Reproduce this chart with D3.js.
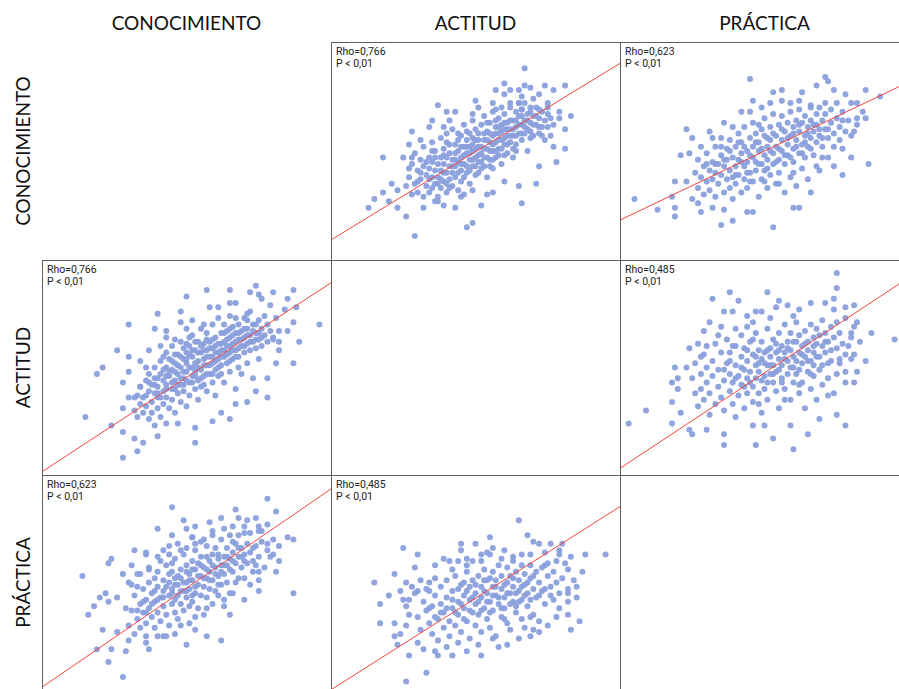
<!DOCTYPE html>
<html>
<head>
<meta charset="utf-8">
<script src="https://cdn.jsdelivr.net/npm/d3@7"></script>
<style>
  body { margin: 0; background: #fff; }
</style>
</head>
<body>
<script>
// variables of the matrix (rows and columns)
const variables = ['CONOCIMIENTO', 'ACTITUD', 'PRÁCTICA']

// one entry per scatter panel
const panelRow = [0, 0, 1, 1, 2, 2]
const panelCol = [1, 2, 0, 2, 0, 1]
const rhoText = ['0,766', '0,623', '0,766', '0,485', '0,623', '0,485']
const pText = 'P < 0,01'
// fitted line, y value (0-100 scale) at x = 0 and at x = 100
const fitAt0 = [9.2, 18.3, 1.5, 3.1, 1.3, 0.1]
const fitAt100 = [90.2, 81.7, 89.4, 91.9, 93.5, 85.3]

// points, [x, y] on a 0-100 scale of the panel
const ptsConAct = [
  [67,88],[60,81],[57,78],[62,78],[67,80],[74,80],[69,79],[81,80],[77,78],[65,78],[72,76],[70,74],[66,75],[60,76],[50,73],[56,72],[37,71],[40,68],[43,68],[49,67],
  [51,70],[57,69],[59,70],[62,72],[65,72],[66,69],[69,68],[72,69],[75,72],[79,68],[83,66],[79,65],[75,67],[81,60],[81,51],[78,45],[77,52],[71,35],[72,43],[66,26],
  [65,34],[60,36],[56,31],[52,25],[54,30],[47,15],[49,17],[43,24],[45,29],[39,25],[37,27],[32,24],[29,11],[26,20],[23,24],[20,27],[13,24],[15,28],[18,31],[21,35],
  [18,47],[25,47],[27,53],[28,59],[31,55],[34,61],[35,64],[39,61],[41,64],[28,47],[27,42],[23,32],[26,34],
  [27,38],[28,44],[29,35],[29,49],[30,31],[30,41],[31,46],[31,37],[32,52],[32,29],[32,43],[33,39],[33,34],[28,30],[30,36],
  [34,47],[34,42],[34,31],[35,54],[35,38],[35,45],[36,35],[36,41],[36,50],[37,29],[37,44],[37,38],[38,47],[38,33],[38,56],[38,41],[36,27],
  [39,44],[39,36],[39,51],[40,40],[40,47],[40,31],[40,58],[41,43],[41,37],[41,53],[42,46],[42,40],[42,34],[42,60],[43,49],[43,43],[43,38],[44,55],[44,45],[44,32],[44,50],
  [45,47],[45,41],[45,57],[45,36],[46,52],[46,44],[46,62],[47,49],[47,40],[47,55],[48,46],[48,58],[48,35],[48,52],[49,43],[49,50],[49,64],[50,47],[50,55],[50,39],[50,60],[46,30],[49,32],
  [51,52],[51,45],[51,58],[52,49],[52,62],[52,42],[53,55],[53,47],[53,66],[54,51],[54,59],[54,38],[55,54],[55,46],[55,63],[56,57],[56,50],[56,42],[56,68],
  [57,54],[57,61],[57,47],[58,58],[58,65],[58,51],[59,62],[59,55],[59,44],[60,60],[60,67],[60,53],[61,57],[61,63],[61,49],[62,60],[62,70],[62,54],
  [63,64],[63,57],[63,47],[64,61],[64,68],[64,53],[65,66],[65,58],[65,72],[66,62],[66,55],[66,69],[67,64],[67,58],[68,67],[68,60],[68,50],[67,72],
  [69,63],[69,70],[70,66],[70,57],[71,62],[71,70],[72,65],[72,58],[73,68],[73,61],[74,64],[74,55],[75,61],[75,70],[76,65],[76,57],[77,62],
  [33,45],[35,33],[36,47],[38,37],[39,48],[40,35],[41,49],[42,43],[43,53],[44,40],[45,52],[46,38],[46,48],[47,43],[47,59],[48,41],[48,49],[49,56],[49,46],[50,51],
  [50,43],[51,48],[51,55],[51,40],[52,52],[52,45],[53,58],[53,51],[54,55],[54,47],[54,63],[55,50],[55,58],[56,53],[56,46],[57,58],[57,64],[58,55],[58,48],[59,59],
  [59,51],[60,56],[60,63],[61,53],[61,60],[62,57],[62,64],[63,60],[63,51],[64,57],[64,64],[65,62],[66,58],[66,66],[67,61],[68,64],[69,59],[70,62],[71,66],[72,61],
  [35,50],[37,35],[39,40],[41,33],[43,46],[45,44],[47,52],[49,53],[53,43],[57,50],[60,48],[64,50],[69,56],[73,57],[44,58],[40,54],[34,37],[31,40],[55,43],[58,61]
]

const ptsConPra = [
  [45,83],[71,84],[72,82],[85,78],[90,75],[78,76],[74,78],[68,80],[63,77],[56,78],[53,77],[46,73],[52,72],[56,73],[59,72],[62,73],[66,71],[69,70],[71,72],[75,72],
  [80,72],[82,72],[85,65],[82,65],[81,59],[77,64],[77,51],[80,47],[86,44],[77,39],[74,43],[70,47],[68,43],[66,31],[62,24],[60,24],[53,15],[44,22],[46,22],[39,18],
  [35,16],[36,23],[32,24],[28,22],[27,26],[25,28],[19,20],[19,24],[13,23],[5,28],[18,29],[19,36],[23,36],[21,48],[24,49],[23,60],[25,56],[28,52],[31,59],[36,63],
  [42,68],[45,68],[49,70],[39,61],[32,56],
  [26,40],[27,33],[27,46],[28,38],[29,30],[29,43],[30,36],[30,49],[31,41],[31,32],[32,45],[32,37],[33,52],[33,29],[33,40],[34,44],[34,35],[35,48],[35,39],[35,56],
  [36,31],[36,43],[37,51],[37,37],[37,46],[38,41],[38,33],[38,55],[39,47],[39,38],[39,28],[40,52],[40,43],[40,35],[41,58],[41,46],[41,39],[42,49],[42,31],[42,54],
  [43,43],[43,37],[43,61],[44,50],[44,45],[44,33],[45,56],[45,40],[45,48],[46,52],[46,36],[46,63],[47,45],[47,58],[47,41],[48,50],[48,29],[48,54],[49,44],[49,60],
  [49,37],[50,48],[50,57],[50,41],[50,65],[51,52],[51,33],[51,46],[52,55],[52,61],[52,39],[53,49],[53,44],[53,67],[54,57],[54,52],[54,35],[55,46],[55,62],[55,40],
  [56,55],[56,50],[56,66],[57,44],[57,59],[57,31],[58,53],[58,63],[58,48],[59,57],[59,38],[59,68],[60,51],[60,61],[60,45],[61,55],[61,64],[61,34],[62,59],[62,49],
  [62,69],[63,53],[63,63],[63,42],[64,57],[64,66],[64,47],[65,61],[65,52],[65,37],[66,64],[66,56],[66,70],[67,59],[67,48],[68,62],[68,54],[68,67],[69,57],[69,41],
  [70,64],[70,52],[71,60],[71,67],[72,56],[72,47],[73,63],[73,69],[74,58],[74,52],[75,65],[76,61],[76,55],[77,68],[78,59],[79,64],[80,57],[82,62],[84,68],
  [36,46],[38,50],[40,39],[42,45],[43,52],[44,40],[46,47],[47,54],[48,44],[49,51],[51,56],[51,42],[52,50],[53,58],[54,45],[55,51],[56,60],[57,48],[58,56],[59,47],
  [60,58],[61,52],[62,62],[63,49],[64,54],[65,58],[66,51],[67,62],[69,60],[70,56],[72,60],[41,54],[45,36],[50,36],[55,35],[60,40],[33,44],[30,44],[35,52],[48,62]
]

const ptsActCon = [
  [74,88],[65,86],[57,86],[50,83],[72,85],[75,84],[80,85],[87,86],[85,82],[88,78],[84,77],[79,79],[76,82],[65,80],[58,78],[61,78],[67,80],[71,75],[48,76],[40,75],
  [30,70],[39,68],[43,67],[48,71],[50,68],[52,72],[56,70],[96,70],[87,71],[85,67],[82,67],[89,62],[82,62],[80,63],[87,52],[81,52],[78,45],[78,36],[74,39],[71,34],
  [67,33],[65,26],[59,25],[62,29],[53,15],[53,22],[47,24],[43,24],[40,18],[39,23],[35,15],[33,11],[28,8],[28,20],[32,17],[24,23],[15,27],[28,31],[30,36],[28,43],
  [30,48],[30,55],[26,58],[21,50],[19,47],[34,53],[36,50],[37,58],[41,60],[43,64],[46,63],[51,64],[34,41],[32,36],
  [32,30],[33,37],[33,27],[34,33],[34,41],[35,29],[35,36],[36,44],[36,32],[37,26],[37,39],[37,47],
  [38,34],[38,42],[38,29],[39,38],[39,50],[39,45],[40,31],[40,41],[40,36],[41,47],[41,27],[41,53],[42,39],[42,44],[42,33],[43,50],[43,36],[43,57],[43,42],
  [44,46],[44,31],[44,54],[45,40],[45,49],[45,35],[45,60],[46,44],[46,52],[46,29],[47,47],[47,38],[47,56],[48,42],[48,50],[48,34],[48,62],[49,45],[49,54],[49,39],
  [50,48],[50,57],[50,32],[50,52],[51,43],[51,60],[51,37],[52,50],[52,46],[52,65],[52,55],[53,40],[53,58],[53,48],[54,53],[54,44],[54,62],[54,35],[55,49],[55,57],[55,68],[55,41],
  [56,54],[56,46],[56,61],[57,51],[57,58],[57,39],[57,66],[58,47],[58,55],[58,62],[59,52],[59,43],[59,70],[59,59],[60,49],[60,57],[60,64],[60,37],[61,54],[61,61],[61,46],[61,73],
  [62,58],[62,51],[62,66],[63,55],[63,62],[63,43],[63,70],[64,60],[64,52],[64,67],[65,57],[65,64],[65,48],[65,74],[66,61],[66,54],[66,69],[67,58],[67,66],[67,40],[67,73],
  [68,63],[68,55],[68,70],[69,60],[69,67],[69,47],[70,64],[70,57],[70,73],[71,61],[71,68],[71,52],[72,65],[72,58],[72,76],[73,62],[73,70],[73,45],
  [74,66],[74,59],[75,63],[75,72],[75,54],[76,68],[76,60],[77,65],[77,74],[78,62],[78,70],[79,67],[80,64],[81,73],[82,58],
  [39,42],[40,45],[41,36],[42,49],[43,40],[44,48],[45,43],[45,53],[46,40],[46,56],[47,51],[47,42],[48,45],[48,55],[49,48],[49,59],[50,44],[50,54],[51,50],[51,56],
  [52,43],[52,58],[53,52],[53,46],[54,57],[54,50],[55,45],[55,60],[56,51],[56,58],[57,55],[57,47],[58,59],[58,51],[59,55],[59,63],[60,53],[60,60],[61,57],[61,50],
  [62,61],[62,55],[63,58],[63,66],[64,56],[64,63],[65,60],[65,53],[66,65],[66,58],[67,62],[67,55],[68,66],[68,59],[69,63],[70,68],[70,60],[71,65],[72,62],[73,67],
  [74,63],[75,66],[76,64],[43,46],[46,48],[49,42],[53,62],[56,42],[59,47],[62,47],[65,68],[68,50],[71,72],[74,70],[40,38],[37,43],[36,37],[42,55],[50,61],[57,63]
]

const ptsActPra = [
  [75,94],[75,87],[74,82],[81,79],[78,78],[74,77],[71,80],[66,80],[62,77],[58,79],[55,81],[60,74],[51,85],[47,76],[49,76],[41,81],[38,85],[32,82],[39,76],[36,76],
  [31,71],[29,67],[34,65],[35,69],[40,68],[44,69],[44,74],[46,71],[52,73],[54,78],[95,63],[87,66],[85,53],[82,48],[81,43],[78,43],[80,64],[81,69],[82,71],[78,56],
  [80,54],[76,52],[75,47],[75,28],[78,23],[72,37],[69,26],[65,19],[60,12],[59,23],[53,17],[47,14],[50,23],[46,23],[36,14],[36,19],[30,21],[25,19],[24,21],[18,24],
  [3,24],[9,30],[18,34],[21,29],[20,40],[18,43],[19,50],[20,45],[23,50],[24,59],[28,55],[27,61],[30,60],
  [25,45],[26,38],[26,52],[27,32],[28,47],[28,40],[29,56],[29,35],[30,43],[30,50],[31,28],[31,38],[32,53],[32,46],[33,33],[33,61],[34,41],[34,49],[35,36],[35,57],
  [36,44],[36,30],[37,52],[37,63],[38,39],[38,47],[38,57],[39,33],[39,43],[40,51],[40,60],[40,27],[41,46],[41,37],[42,55],[42,65],[42,42],[43,49],[43,31],[43,59],
  [44,45],[44,53],[44,38],[45,62],[45,48],[46,41],[46,56],[46,34],[47,51],[47,66],[47,45],[48,58],[48,38],[48,48],[49,54],[49,62],[49,29],[50,46],[50,57],[50,40],
  [51,51],[51,68],[51,35],[52,59],[52,47],[52,55],[53,43],[53,63],[53,51],[54,57],[54,39],[54,48],[55,54],[55,66],[55,31],[56,60],[56,45],[56,51],[57,57],[57,40],
  [57,70],[58,53],[58,62],[58,47],[59,58],[59,35],[59,66],[60,50],[60,55],[60,43],[61,62],[61,71],[61,47],[62,57],[62,38],[62,65],[63,52],[63,60],[63,43],[64,67],
  [64,55],[64,31],[65,62],[65,48],[65,58],[66,70],[66,53],[66,40],[67,64],[67,57],[67,46],[68,61],[68,68],[68,35],[69,55],[69,65],[69,49],[70,60],[70,72],[70,42],
  [71,57],[71,66],[72,52],[72,62],[72,45],[73,69],[73,58],[74,64],[74,38],[75,59],[75,71],[76,54],[76,66],[77,61],[78,73],[78,48],[79,60],[80,66],[81,56],[83,62],
  [40,45],[42,50],[44,58],[45,43],[47,55],[48,52],[49,44],[50,52],[51,58],[51,43],[52,51],[53,47],[54,61],[55,49],[55,58],[56,43],[57,54],[58,59],[59,50],[60,62],
  [61,53],[62,49],[63,56],[64,61],[65,53],[66,47],[67,60],[68,55],[70,51],[71,62],[73,53],[36,49],[38,53],[39,60],[43,41],[46,63],[48,33],[57,35],[62,42],[67,51]
]

const ptsPraCon = [
  [78,89],[45,85],[67,84],[68,80],[81,83],[74,80],[71,79],[62,80],[58,78],[53,76],[49,79],[50,75],[40,75],[45,72],[36,64],[32,65],[36,63],[24,61],[23,59],[31,58],
  [28,54],[37,56],[40,62],[44,67],[48,65],[52,71],[53,68],[56,70],[59,74],[66,76],[70,73],[75,76],[75,74],[78,77],[85,71],[87,70],[82,67],[78,68],[80,63],[81,55],
  [75,55],[75,51],[75,46],[87,45],[70,42],[65,35],[63,39],[62,23],[57,25],[53,28],[50,21],[46,26],[42,25],[40,25],[37,19],[36,22],[30,23],[29,18],[28,6],[23,13],
  [24,19],[19,19],[21,28],[26,27],[16,35],[18,39],[14,53],[20,43],[22,45],[23,41],[26,43],[29,38],[33,37],[30,50],[33,54],
  [30,30],[31,37],[32,26],[32,44],[33,33],[34,40],[34,29],[35,47],[35,36],[36,31],[36,42],[37,38],[37,50],[38,34],[38,45],[39,29],[39,41],[40,48],[40,36],[40,55],
  [41,43],[41,32],[42,39],[42,51],[42,46],[43,35],[43,58],[44,44],[44,50],[44,30],[45,40],[45,55],[45,47],[46,36],[46,52],[46,61],[47,44],[47,49],[47,33],[48,56],
  [48,40],[48,52],[49,46],[49,63],[49,37],[50,50],[50,58],[50,43],[51,54],[51,31],[51,47],[52,60],[52,41],[52,51],[53,56],[53,45],[53,65],[54,49],[54,38],[54,59],
  [55,53],[55,44],[55,62],[56,57],[56,48],[56,35],[57,52],[57,67],[57,43],[58,60],[58,55],[58,47],[59,63],[59,40],[59,51],[60,57],[60,66],[60,46],[61,53],[61,61],
  [62,58],[62,49],[62,70],[63,62],[63,54],[63,42],[64,66],[64,58],[64,50],[65,61],[65,72],[65,45],[66,64],[66,55],[67,68],[67,59],[67,50],[68,62],[68,72],[69,57],
  [69,66],[70,63],[70,52],[71,68],[71,59],[72,64],[72,73],[73,60],[73,55],[74,67],[75,62],[76,69],[77,57],[78,65],[80,70],
  [33,48],[36,25],[39,52],[41,60],[43,25],[44,63],[46,42],[48,30],[50,66],[51,39],[53,34],[55,69],[57,38],[59,72],[61,44],[63,75],[66,45],[68,52],[70,76],[72,49],
  [74,58],[76,74],[79,62],[82,60],[31,49],[34,54],[37,57],[42,65],[47,68],[52,71],
  [38,40],[40,42],[42,43],[43,48],[44,54],[45,45],[46,49],[47,53],[48,46],[49,50],[50,55],[50,46],[51,51],[52,56],[53,48],[54,53],[55,58],[56,52],[57,56],[58,51],
  [59,58],[60,54],[61,63],[62,55],[63,58],[64,62],[65,56],[66,60],[68,66],[70,60],[36,36],[35,41],[39,46],[45,59],[52,44],[57,62],[61,49],[66,69],[69,62],[73,66]
]

const ptsPraAct = [
  [65,79],[68,72],[55,71],[70,69],[72,68],[76,68],[80,68],[88,63],[95,63],[79,65],[83,62],[79,63],[50,68],[45,68],[45,65],[25,66],[30,63],[15,50],[22,54],[20,44],
  [17,40],[17,31],[22,31],[22,25],[24,26],[23,21],[27,16],[33,8],[26,4],[37,16],[32,19],[30,22],[36,18],[42,16],[47,18],[52,16],[51,21],[56,24],[61,21],[62,28],
  [67,29],[69,25],[72,27],[75,30],[83,28],[86,32],[82,35],[85,43],[82,41],[84,51],[82,47],[79,45],[77,42],[78,34],[72,32],[69,34],[64,39],[26,39],[25,42],[27,42],
  [30,46],[28,48],[34,46],[26,50],[31,51],[34,50],[29,57],[36,58],[39,61],[41,60],[44,60],[47,58],[49,60],[52,60],[54,64],[56,66],[59,61],[63,62],[66,63],[69,63],
  [74,64],[75,59],[78,60],[81,59],[82,56],[74,58],
  [30,34],[31,28],[32,41],[33,37],[34,31],[35,26],[35,39],[36,44],[37,33],[37,23],[38,40],[38,48],[39,29],[39,36],[40,43],[40,51],[41,32],[41,25],[42,38],[42,46],
  [43,30],[43,53],[44,41],[44,35],[45,49],[45,27],[46,38],[46,44],[47,32],[47,55],[48,42],[48,48],[48,24],[49,36],[49,51],[50,40],[50,45],[50,30],[51,53],[51,35],
  [52,43],[52,48],[52,27],[53,38],[53,56],[54,45],[54,33],[54,51],[55,41],[55,29],[56,48],[56,55],[56,37],[57,44],[57,25],[57,51],[58,40],[58,58],[59,47],[59,34],
  [59,53],[60,43],[60,38],[61,50],[61,57],[61,31],[62,45],[62,53],[63,41],[63,60],[63,48],[64,36],[64,55],[65,46],[65,51],[66,42],[66,58],[66,33],[67,49],[67,54],
  [68,45],[68,39],[69,52],[69,58],[70,47],[70,35],[71,55],[71,43],[72,50],[73,46],[73,57],[74,40],[75,53],[76,48],[77,55],[78,50],[79,38],[80,52],[82,45],[85,48],
  [87,55],[29,45],[26,30],[24,46],[33,47],[40,20],[44,22],[58,20],[55,63],[60,65],[47,61],[52,63],[65,24],[70,28],[27,35],[36,52],[42,56],
  [38,36],[40,38],[42,42],[43,36],[44,47],[45,40],[46,33],[47,46],[48,37],[49,43],[50,49],[51,41],[52,37],[53,46],[54,41],[55,52],[55,36],[56,44],[57,48],[58,43],
  [59,38],[60,49],[61,45],[62,40],[63,52],[64,45],[65,41],[66,48],[67,44],[68,50],[69,42],[70,53],[72,44],[74,47],[76,44],[34,38],[36,34],[46,50],[53,51],[60,33]
]

const panelPoints = [ptsConAct, ptsConPra, ptsActCon, ptsActPra, ptsPraCon, ptsPraAct]

const width = 899, height = 689
const colEdges = [42, 331, 620, 909]
const rowEdges = [42, 260, 475, 690]
const dotColor = '#8a9fdc'
const lineColor = '#f0463f'

const svg = d3.select('body').append('svg')
  .attr('width', width)
  .attr('height', height)
  .style('display', 'block')

// column titles
svg.selectAll('text.coltitle').data(variables).enter()
  .append('text')
  .attr('class', 'coltitle')
  .attr('x', (d, i) => (colEdges[i] + colEdges[i + 1]) / 2)
  .attr('y', 30)
  .attr('text-anchor', 'middle')
  .style('font-family', 'Lato, "Open Sans", sans-serif')
  .style('font-size', '19px')
  .style('fill', '#111')
  .text(d => d)

// row titles
svg.selectAll('text.rowtitle').data(variables).enter()
  .append('text')
  .attr('class', 'rowtitle')
  .attr('transform', (d, i) => `translate(30,${(rowEdges[i] + rowEdges[i + 1]) / 2}) rotate(-90)`)
  .attr('text-anchor', 'middle')
  .style('font-family', 'Lato, "Open Sans", sans-serif')
  .style('font-size', '19px')
  .style('fill', '#111')
  .text(d => d)

let panels = panelRow.map((r, i) => ({
  row: r, col: panelCol[i], rho: rhoText[i], pts: panelPoints[i],
  fit: [[0, fitAt0[i]], [100, fitAt100[i]]]
}))

panels.forEach(p => {
  let x0 = colEdges[p.col], x1 = colEdges[p.col + 1]
  let y0 = rowEdges[p.row], y1 = rowEdges[p.row + 1]
  let x = d3.scaleLinear().domain([0, 100]).range([x0, x1])
  let y = d3.scaleLinear().domain([0, 100]).range([y1, y0])

  let g = svg.append('g')

  g.selectAll('circle').data(p.pts).enter()
    .append('circle')
    .attr('cx', d => x(d[0]))
    .attr('cy', d => y(d[1]))
    .attr('r', 3)
    .attr('fill', dotColor)
    .attr('fill-opacity', 0.95)

  g.append('path')
    .datum(p.fit)
    .attr('d', d3.line().x(d => x(d[0])).y(d => y(d[1])))
    .attr('stroke', lineColor)
    .attr('stroke-width', 1)
    .attr('fill', 'none')

  g.append('text')
    .attr('x', x0 + 5)
    .attr('y', y0 + 13)
    .style('font-family', 'Roboto, sans-serif')
    .style('font-size', '10.5px')
    .style('fill', '#222')
    .text('Rho=' + p.rho)

  g.append('text')
    .attr('x', x0 + 5)
    .attr('y', y0 + 25)
    .style('font-family', 'Roboto, sans-serif')
    .style('font-size', '10.5px')
    .style('fill', '#222')
    .text(pText)
})

// panel frames on top
panels.forEach(p => {
  svg.append('rect')
    .attr('x', colEdges[p.col] + 0.5)
    .attr('y', rowEdges[p.row] + 0.5)
    .attr('width', colEdges[p.col + 1] - colEdges[p.col])
    .attr('height', rowEdges[p.row + 1] - rowEdges[p.row])
    .attr('fill', 'none')
    .attr('stroke', '#5e5e5e')
    .attr('stroke-width', 1)
})
</script>
</body>
</html>
